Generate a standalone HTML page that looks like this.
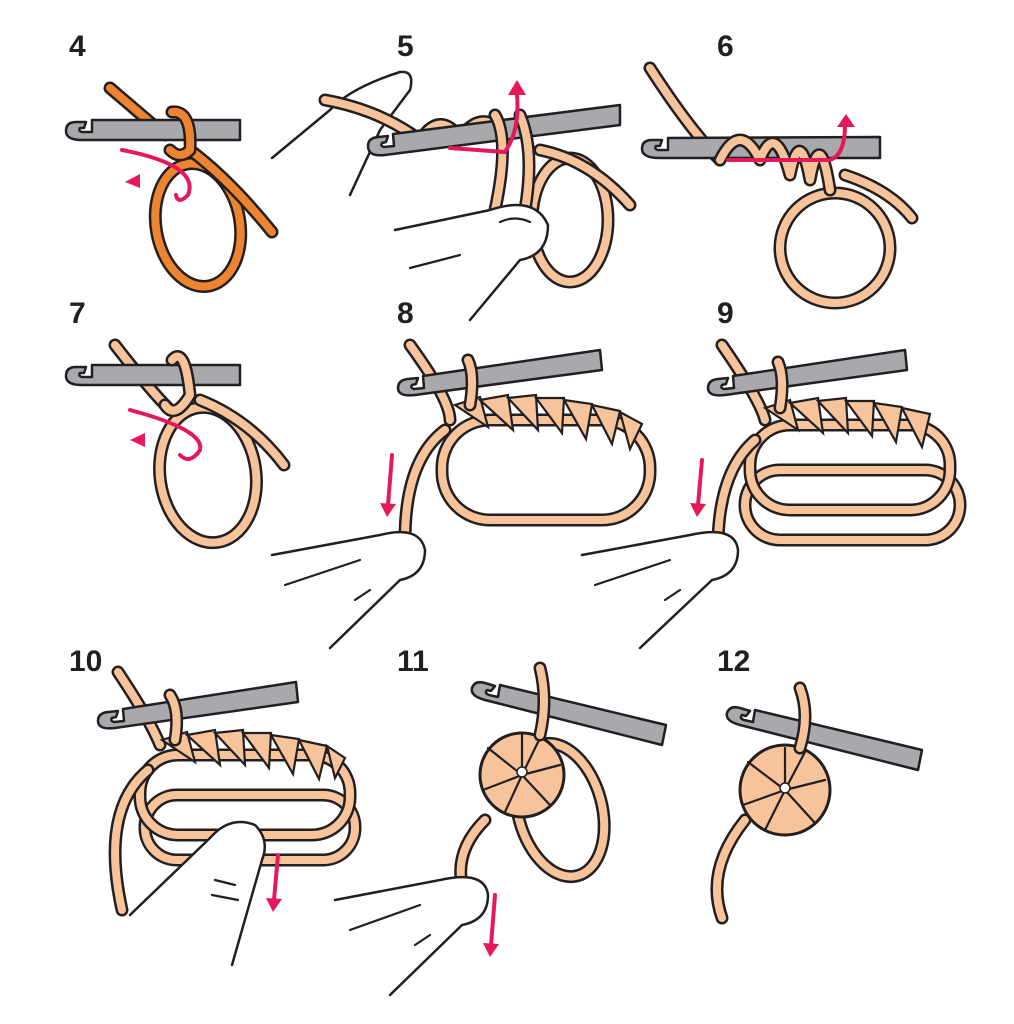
<!DOCTYPE html>
<html><head><meta charset="utf-8"><style>
html,body{margin:0;padding:0;background:#fff}
svg{display:block}
.o{fill:none;stroke:#231f20;stroke-width:13;stroke-linecap:round;stroke-linejoin:round}
.p{fill:none;stroke:#f6c39b;stroke-width:8;stroke-linecap:round;stroke-linejoin:round}
.q{fill:none;stroke:#ef8430;stroke-width:8;stroke-linecap:round;stroke-linejoin:round}
.h{fill:#a7a9ac;stroke:#231f20;stroke-width:2.5;stroke-linejoin:round}
.r{fill:none;stroke:#e5195a;stroke-width:4;stroke-linecap:round}
.ra{fill:#e5195a}
.f{fill:#fff;stroke:#231f20;stroke-width:2.5;stroke-linejoin:round;stroke-linecap:round}
.l{fill:none;stroke:#231f20;stroke-width:2.2;stroke-linecap:round}
.n{font-family:"Liberation Sans",sans-serif;font-weight:bold;font-size:30px;fill:#231f20}
.st{fill:#f6c39b;stroke:#231f20;stroke-width:2.2}
</style></head><body>
<svg width="1014" height="1024" viewBox="0 0 1014 1024" xmlns="http://www.w3.org/2000/svg">
<text class="n" x="69" y="56">4</text>
<text class="n" x="397" y="56">5</text>
<text class="n" x="717" y="56">6</text>
<text class="n" x="69" y="323">7</text>
<text class="n" x="397" y="323">8</text>
<text class="n" x="717" y="323">9</text>
<text class="n" x="69" y="671">10</text>
<text class="n" x="397" y="671">11</text>
<text class="n" x="717" y="671">12</text>

<!-- Panel 4 -->
<path class="o" d="M110 88 L165 135"/><path class="q" d="M110 88 L165 135"/>
<ellipse class="o" cx="198" cy="225" rx="42" ry="62" transform="rotate(-10 198 225)"/>
<ellipse class="q" cx="198" cy="225" rx="42" ry="62" transform="rotate(-10 198 225)"/>
<path class="o" d="M190 150 Q230 180 272 232"/><path class="q" d="M190 150 Q230 180 272 232"/>
<path class="h" d="M240 120 L240 140 L82 140 Q66 140 66 131 Q66 122 76 122 L86 122 L84 128 L80 128 Q78 131 82 132 L92 132 L92 120 Z"/>
<path class="o" d="M172 112 Q192 110 190 150 Q180 160 170 150"/><path class="q" d="M172 112 Q192 110 190 150 Q180 160 170 150"/>
<path class="r" d="M122 150 Q200 165 188 195 Q178 205 176 195"/><path class="ra" d="M125 182 L140 174 L140 188 Z"/>

<!-- Panel 5 -->
<path class="f" d="M272 158 L330 110 Q350 88 400 72 Q415 70 410 90 L380 130 L350 195"/>
<path class="o" d="M325 100 Q380 110 420 140 Q440 110 460 138 Q480 110 500 130"/><path class="p" d="M325 100 Q380 110 420 140 Q440 110 460 138 Q480 110 500 130"/>
<ellipse class="o" cx="570" cy="220" rx="38" ry="62"/><ellipse class="p" cx="570" cy="220" rx="38" ry="62"/>
<path class="o" d="M540 150 Q590 160 630 205"/><path class="p" d="M540 150 Q590 160 630 205"/>
<path class="h" d="M620 105 L620 125 L385 155 Q368 157 368 146 Q368 138 378 137 L388 136 L386 142 L382 143 Q380 146 384 147 L394 146 L393 134 Z"/>
<path class="o" d="M495 115 Q510 140 495 210 M520 115 Q535 150 525 210"/><path class="p" d="M495 115 Q510 140 495 210 M520 115 Q535 150 525 210"/>
<path class="f" d="M395 230 L490 210 Q535 195 548 225 Q548 255 520 260 L470 320"/>
<path class="l" d="M410 268 L460 255 M500 222 Q515 215 530 222"/>
<path class="r" d="M450 148 L505 152 Q520 130 517 95"/><path class="ra" d="M508 95 L517 80 L526 95 Z"/>

<!-- Panel 6 -->
<path class="o" d="M650 68 Q690 130 720 160"/><path class="p" d="M650 68 Q690 130 720 160"/>
<ellipse class="o" cx="835" cy="248" rx="55" ry="55"/><ellipse class="p" cx="835" cy="248" rx="55" ry="55"/>
<path class="o" d="M845 175 Q890 190 912 218"/><path class="p" d="M845 175 Q890 190 912 218"/>
<path class="h" d="M880 137 L880 158 L660 158 Q642 158 642 149 Q642 140 652 140 L662 140 L660 146 L656 146 Q654 149 658 150 L668 150 L668 138 Z"/>
<path class="o" d="M720 160 Q740 120 760 160 Q775 120 790 175 Q800 125 810 180 Q820 125 830 190"/><path class="p" d="M720 160 Q740 120 760 160 Q775 120 790 175 Q800 125 810 180 Q820 125 830 190"/>
<path class="r" d="M728 160 L830 160 Q845 155 845 125"/><path class="ra" d="M837 127 L846 114 L855 127 Z"/>

<!-- Panel 7 -->
<path class="o" d="M115 345 Q150 390 170 410"/><path class="p" d="M115 345 Q150 390 170 410"/>
<ellipse class="o" cx="208" cy="475" rx="48" ry="68" transform="rotate(-8 208 475)"/><ellipse class="p" cx="208" cy="475" rx="48" ry="68" transform="rotate(-8 208 475)"/>
<path class="o" d="M200 400 Q250 420 284 465"/><path class="p" d="M200 400 Q250 420 284 465"/>
<path class="h" d="M240 365 L240 385 L82 385 Q66 385 66 376 Q66 367 76 367 L86 367 L84 373 L80 373 Q78 376 82 377 L92 377 L92 365 Z"/>
<path class="o" d="M172 360 Q185 345 190 395 Q175 420 165 405"/><path class="p" d="M172 360 Q185 345 190 395 Q175 420 165 405"/>
<path class="r" d="M130 410 Q205 430 200 450 Q190 465 180 455"/><path class="ra" d="M130 440 L145 433 L145 447 Z"/>

<!-- Panel 8 -->
<path class="o" d="M410 345 Q450 400 450 420"/><path class="p" d="M410 345 Q450 400 450 420"/>
<rect class="o" x="442" y="420" width="208" height="100" rx="48"/><rect class="p" x="442" y="420" width="208" height="100" rx="48"/>
<path class="o" d="M445 430 Q405 460 405 540"/><path class="p" d="M445 430 Q405 460 405 540"/>
<path class="h" d="M600 350 L602 370 L415 395 Q398 397 398 388 Q398 380 408 379 L418 378 L416 384 L412 385 Q410 388 414 389 L424 388 L423 376 Z"/>
<g class="st"><path d="M455 405 l25 -8 l8 30 z M480 400 l28 -5 l5 35 z M508 398 l28 -3 l2 35 z M536 398 l28 0 l-2 35 z M564 400 l28 4 l-6 35 z M592 405 l28 6 l-8 33 z M620 412 l22 12 l-12 25 z"/></g>
<path class="o" d="M468 360 Q475 375 470 405"/><path class="p" d="M468 360 Q475 375 470 405"/>
<path class="f" d="M272 555 L380 535 Q420 525 425 550 Q425 575 400 580 L330 648"/>
<path class="l" d="M285 585 L360 560 M355 600 L370 590"/>
<path class="r" d="M392 455 L388 505"/><path class="ra" d="M380 503 L387 517 L396 504 Z"/>

<!-- Panel 9 -->
<path class="o" d="M722 345 Q760 400 765 420"/><path class="p" d="M722 345 Q760 400 765 420"/>
<rect class="o" x="745" y="470" width="215" height="70" rx="35"/><rect class="p" x="745" y="470" width="215" height="70" rx="35"/>
<rect class="o" x="750" y="425" width="200" height="85" rx="40"/><rect class="p" x="750" y="425" width="200" height="85" rx="40"/>
<path class="o" d="M755 440 Q720 470 718 540"/><path class="p" d="M755 440 Q720 470 718 540"/>
<path class="h" d="M905 350 L907 370 L725 395 Q708 397 708 388 Q708 380 718 379 L728 378 L726 384 L722 385 Q720 388 724 389 L734 388 L733 376 Z"/>
<g class="st"><path d="M765 408 l25 -8 l8 30 z M790 403 l28 -5 l5 35 z M818 401 l28 -3 l2 35 z M846 401 l28 0 l-2 35 z M874 403 l28 4 l-6 35 z M902 408 l28 6 l-8 33 z"/></g>
<path class="o" d="M778 362 Q785 378 780 408"/><path class="p" d="M778 362 Q785 378 780 408"/>
<path class="f" d="M582 555 L690 535 Q735 525 738 550 Q738 575 712 580 L640 648"/>
<path class="l" d="M595 585 L670 560 M665 600 L680 590"/>
<path class="r" d="M702 460 L698 505"/><path class="ra" d="M690 503 L697 517 L706 504 Z"/>

<!-- Panel 10 -->
<path class="o" d="M118 672 Q150 720 160 745"/><path class="p" d="M118 672 Q150 720 160 745"/>
<rect class="o" x="145" y="795" width="210" height="65" rx="32"/><rect class="p" x="145" y="795" width="210" height="65" rx="32"/>
<rect class="o" x="140" y="755" width="210" height="80" rx="38"/><rect class="p" x="140" y="755" width="210" height="80" rx="38"/>
<path class="o" d="M148 770 Q100 810 122 910"/><path class="p" d="M148 770 Q100 810 122 910"/>
<path class="h" d="M296 682 L298 702 L115 728 Q98 730 98 721 Q98 713 108 712 L118 711 L116 717 L112 718 Q110 721 114 722 L124 721 L123 709 Z"/>
<g class="st"><path d="M162 740 l25 -8 l8 30 z M187 735 l28 -5 l5 35 z M215 733 l28 -3 l2 35 z M243 733 l28 0 l-2 35 z M271 735 l28 4 l-6 35 z M299 740 l28 6 l-8 33 z M327 746 l18 12 l-10 20 z"/></g>
<path class="o" d="M170 695 Q180 710 175 740"/><path class="p" d="M170 695 Q180 710 175 740"/>
<path class="f" d="M130 915 L210 838 Q230 815 255 825 Q270 840 262 860 L232 965"/>
<path class="l" d="M215 880 L235 885 M212 895 L238 900"/>
<path class="r" d="M278 855 L274 900"/><path class="ra" d="M266 898 L273 912 L282 899 Z"/>

<!-- Panel 11 -->
<path class="o" d="M485 820 Q455 850 462 885"/><path class="p" d="M485 820 Q455 850 462 885"/>
<ellipse class="o" cx="560" cy="810" rx="42" ry="68" transform="rotate(-15 560 810)"/><ellipse class="p" cx="560" cy="810" rx="42" ry="68" transform="rotate(-15 560 810)"/>
<circle cx="522" cy="775" r="42" fill="#f6c39b" stroke="#231f20" stroke-width="3"/>
<g class="l"><path d="M522 775 L522 735 M522 775 L560 765 M522 775 L550 805 M522 775 L505 812 M522 775 L483 790 M522 775 L488 748 M522 775 L540 738"/></g>
<circle cx="522" cy="772" r="5" fill="#fff" stroke="#231f20" stroke-width="1.5"/>
<path class="h" d="M666 725 L662 745 L485 700 Q470 696 472 688 Q475 680 485 683 L495 686 L491 691 L487 690 Q484 693 489 695 L498 697 L500 685 Z"/>
<path class="o" d="M540 668 Q548 700 540 735"/><path class="p" d="M540 668 Q548 700 540 735"/>
<path class="f" d="M335 900 L440 880 Q485 870 488 895 Q488 920 462 925 L390 995"/>
<path class="l" d="M350 930 L420 905 M415 945 L430 935"/>
<path class="r" d="M495 895 L491 945"/><path class="ra" d="M483 943 L490 957 L499 944 Z"/>

<!-- Panel 12 -->
<path class="o" d="M745 820 Q705 870 722 918"/><path class="p" d="M745 820 Q705 870 722 918"/>
<circle cx="785" cy="790" r="45" fill="#f6c39b" stroke="#231f20" stroke-width="3"/>
<g class="l"><path d="M785 790 L785 748 M785 790 L825 780 M785 790 L815 823 M785 790 L765 830 M785 790 L743 805 M785 790 L748 762 M785 790 L805 752"/></g>
<circle cx="785" cy="788" r="5" fill="#fff" stroke="#231f20" stroke-width="1.5"/>
<path class="h" d="M922 750 L918 770 L740 725 Q725 721 727 713 Q730 705 740 708 L750 711 L746 716 L742 715 Q739 718 744 720 L753 722 L755 710 Z"/>
<path class="o" d="M800 688 Q810 715 800 748"/><path class="p" d="M800 688 Q810 715 800 748"/>
</svg>
</body></html>
